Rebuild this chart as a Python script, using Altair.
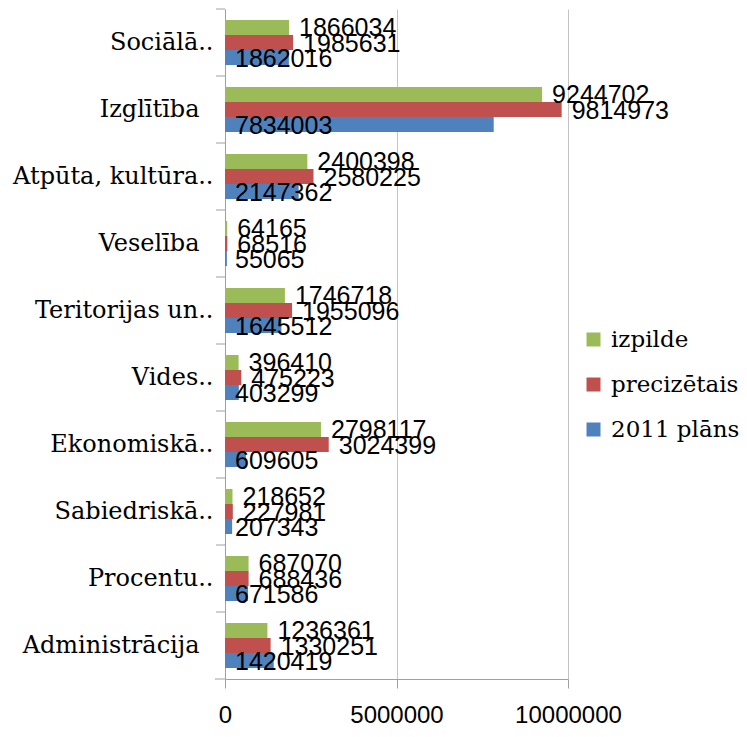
import altair as alt
import pandas as pd

categories = ["Sociālā..", "Izglītība", "Atpūta, kultūra..", "Veselība",
              "Teritorijas un..", "Vides..", "Ekonomiskā..", "Sabiedriskā..", "Procentu..",
              "Administrācija"]
trailing_space_labels = ["Izglītība", "Veselība", "Administrācija"]
series = ["izpilde", "precizētais", "2011 plāns"]
colors = ["#9BBB59", "#C0504D", "#4F81BD"]
izpilde = [1866034, 9244702, 2400398, 64165, 1746718, 396410, 2798117, 218652, 687070, 1236361]
precizetais = [1985631, 9814973, 2580225, 68516, 1955096, 475223, 3024399, 227981, 688436, 1330251]
plans_2011 = [1862016, 7834003, 2147362, 55065, 1645512, 403299, 609605, 207343, 671586, 1420419]
x_ticks = [0, 5000000, 10000000]

rows = []
for s, vals in zip(series, [izpilde, precizetais, plans_2011]):
    for c, v in zip(categories, vals):
        rows.append({"category": c, "series": s, "value": v})
df = pd.DataFrame(rows)
ticks_df = pd.DataFrame({"category": categories})

test_expr = "indexof(" + str(trailing_space_labels) + ", datum.value) >= 0"

W, H = 343, 670
ycat = alt.Y("category:N", sort=categories, title=None,
             scale=alt.Scale(paddingInner=0, paddingOuter=0),
             axis=alt.Axis(ticks=False, domain=True, domainColor="#A0A0A0", grid=False,
                           labelFont="DejaVu Serif", labelFontSize=24, labelColor="black",
                           labelPadding={"condition": {"test": test_expr, "value": 26}, "value": 12},
                           labelLimit=0))
yoff = alt.YOffset("series:N", sort=series,
                   scale=alt.Scale(domain=series, paddingInner=0, paddingOuter=0.733))
xq = alt.Scale(domain=[0, 10000000], nice=False)

bars = alt.Chart(df).mark_bar().encode(
    x=alt.X("value:Q", scale=xq, title=None,
            axis=alt.Axis(values=x_ticks, format="d", grid=True, gridColor="#C4C4C4",
                          domainColor="#A0A0A0", tickColor="#A0A0A0", tickSize=9,
                          labelFont="Liberation Sans", labelFontSize=24, labelColor="black",
                          labelPadding=15, labelFlush=False)),
    y=ycat,
    yOffset=yoff,
    color=alt.Color("series:N", sort=series,
                    scale=alt.Scale(domain=series, range=colors),
                    legend=alt.Legend(title=None, orient="none", legendX=357, legendY=319,
                                      symbolType="square", symbolSize=196, symbolStrokeWidth=0,
                                      labelFont="DejaVu Serif", labelFontSize=23,
                                      labelColor="black", rowPadding=21, padding=0,
                                      labelOffset=6, labelLimit=0)),
)

texts = alt.Chart(df).transform_calculate(
    lx="datum.series == '2011 plāns' ? 0 : datum.value"
).mark_text(align="left", baseline="middle", dx=10, dy=1, font="Liberation Sans",
            fontSize=25, color="black").encode(
    x=alt.X("lx:Q", scale=xq),
    y=alt.Y("category:N", sort=categories),
    yOffset=yoff,
    text=alt.Text("value:Q", format="d"),
)

cat_ticks = alt.Chart(ticks_df).mark_rule(color="#A0A0A0").encode(
    y=alt.Y("category:N", sort=categories, bandPosition=0),
    x=alt.value(-9), x2=alt.value(0),
)
bottom_tick = alt.Chart(ticks_df.head(1)).mark_rule(color="#A0A0A0").encode(
    y=alt.value(H), x=alt.value(-10), x2=alt.value(0),
)

chart = alt.layer(bars, texts, cat_ticks, bottom_tick).properties(
    width=W, height=H,
    autosize=alt.AutoSizeParams(type="none"),
    padding={"left": 217, "top": 1, "right": 171, "bottom": 50},
).configure_view(stroke=None)

chart.save("out.html", embed_options={"renderer": "svg", "actions": False})
